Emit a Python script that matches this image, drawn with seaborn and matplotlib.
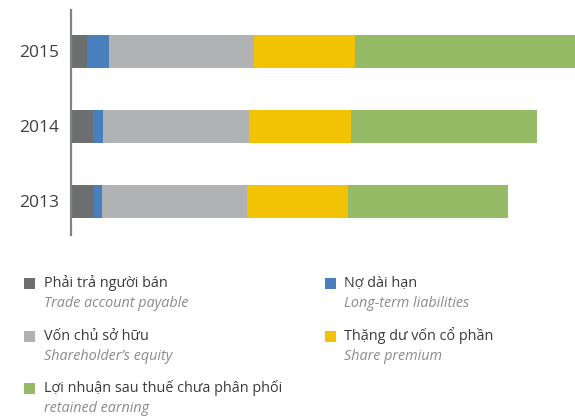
import matplotlib
matplotlib.use("Agg")
import matplotlib.pyplot as plt
import matplotlib.patches as mpatches
import seaborn as sns
import pandas as pd
import numpy as np

years = ["2015", "2014", "2013"]
trade_payable = [16.3, 22.3, 23.3]
long_term = [22.0, 10.0, 8.0]
equity = [145.0, 146.0, 145.0]
share_premium = [101.0, 102.0, 101.0]
retained = [220.0, 186.0, 160.0]

labels_vi = ["Phải trả người bán", "Nợ dài hạn", "Vốn chủ sở hữu",
             "Thặng dư vốn cổ phần", "Lợi nhuận sau thuế chưa phân phối"]
labels_en = ["Trade account payable", "Long-term liabilities", "Shareholder’s equity",
             "Share premium", "retained earning"]
colors = ["#6d6e70", "#4a7fbd", "#b1b2b4", "#f2c305", "#95bb66"]

sns.set_theme(style="white")
plt.rcParams["font.family"] = ["Open Sans", "DejaVu Sans"]

series = [trade_payable, long_term, equity, share_premium, retained]
cum = np.cumsum(np.array(series), axis=0)

fig = plt.figure(figsize=(5.75, 4.18), dpi=100)
ax = fig.add_axes([70.7 / 575, (418 - 235) / 418, (575 - 70.7) / 575, 225 / 418])

# draw cumulative totals from largest to smallest so segments stack
for i in range(len(series) - 1, -1, -1):
    df = pd.DataFrame({"year": years, "value": cum[i]})
    sns.barplot(data=df, x="value", y="year", orient="h", color=colors[i],
                width=0.44, saturation=1, ax=ax, edgecolor="none", linewidth=0)

ax.set_xlim(0, cum[-1][0])
ax.set_ylim(2.447, -0.553)
ax.set_xlabel("")
ax.set_ylabel("")
ax.set_xticks([])
for s in ["top", "right", "bottom"]:
    ax.spines[s].set_visible(False)
ax.spines["left"].set_color("#808285")
ax.spines["left"].set_linewidth(1.6)
ax.tick_params(axis="y", length=0, pad=8, labelsize=12.5, labelcolor="#3f3f3f")

# legend
col_x = [24, 325]
row_y = [287, 340, 392]
positions = [(0, 0), (1, 0), (0, 1), (1, 1), (0, 2)]
for k, (c, r) in enumerate(positions):
    x0 = col_x[c]
    yb = row_y[r]
    fig.patches.append(mpatches.Rectangle((x0 / 575, 1 - (yb + 2) / 418), 11 / 575, 11 / 418,
                                          transform=fig.transFigure, color=colors[k],
                                          linewidth=0))
    fig.text((x0 + 19.5) / 575, 1 - yb / 418, labels_vi[k], fontsize=10.4,
             color="#3a3a3a", va="baseline", ha="left")
    fig.text((x0 + 19.5) / 575, 1 - (yb + 20) / 418, labels_en[k], fontsize=10.4,
             color="#8a8b8d", style="italic", va="baseline", ha="left")

fig.savefig("out.png", dpi=100)
